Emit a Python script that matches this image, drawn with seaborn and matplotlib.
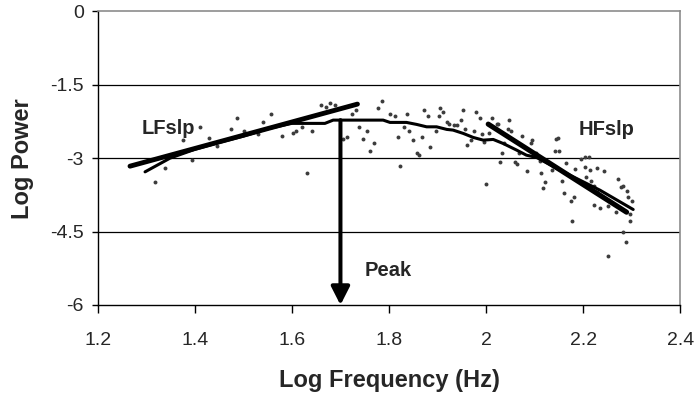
import matplotlib
matplotlib.use("Agg")
import matplotlib.pyplot as plt
import seaborn as sns
import pandas as pd

# Spectral estimates (log frequency vs. log power)
log_freq = [
    1.3186, 1.3386, 1.3952, 1.3763, 1.4107, 1.4292, 1.4451, 1.4755, 1.4869, 1.5019,
    1.5295, 1.5398, 1.5563, 1.5789, 1.6022, 1.6084, 1.6207, 1.6407, 1.6320, 1.6592,
    1.6701, 1.6790, 1.6891, 1.7045, 1.7128, 1.7231, 1.7319, 1.7387, 1.7470, 1.7542,
    1.7614, 1.7696, 1.7776, 1.7855, 1.8030, 1.8116, 1.8194, 1.8232, 1.8303, 1.8380,
    1.8417, 1.8499, 1.8571, 1.8619, 1.8683, 1.8724, 1.8802, 1.8843, 1.8963, 1.9029,
    1.9059, 1.9105, 1.9187, 1.9241, 1.9341, 1.9405, 1.9486, 1.9529, 1.9574, 1.9605,
    1.9681, 1.9759, 1.9795, 1.9873, 1.9916, 1.9957, 1.9990, 2.0064, 2.0130, 2.0217,
    2.0250, 2.0285, 2.0322, 2.0361, 2.0443, 2.0474, 2.0511, 2.0587, 2.0631, 2.0731,
    2.0937, 2.0917, 2.1473, 2.1438, 2.1417, 2.1506, 2.0834, 2.1129, 2.1211, 2.1176,
    2.1349, 2.1555, 2.1656, 2.1597, 2.1741, 2.1815, 2.1774, 2.1839, 2.1946, 2.2041,
    2.2117, 2.2041, 2.2138, 2.2282, 2.2426, 2.2159, 2.2227, 2.2288, 2.2049, 2.1967,
    2.2214, 2.2344, 2.2502, 2.2667, 2.2708, 2.2776, 2.2824, 2.2894, 2.2927, 2.2997,
    2.2962, 2.2968, 2.2811, 2.2886, 2.2502, 2.0675, 2.1020, 2.1108,
]
log_power = [
    -3.497, -3.198, -3.041, -2.632, -2.366, -2.597, -2.755, -2.403, -2.176, -2.442,
    -2.515, -2.264, -2.100, -2.554, -2.479, -2.442, -2.366, -2.442, -3.301, -1.916,
    -1.951, -1.875, -1.916, -2.601, -2.560, -2.100, -2.025, -2.360, -2.601, -2.442,
    -2.857, -2.699, -1.984, -1.834, -2.100, -2.137, -2.558, -3.164, -2.360, -2.100,
    -2.442, -2.632, -2.892, -2.935, -2.560, -2.025, -2.141, -2.781, -2.442, -2.141,
    -1.978, -2.063, -2.264, -2.305, -2.325, -2.325, -2.223, -2.022, -2.407, -2.740,
    -2.632, -2.444, -2.063, -2.176, -2.515, -2.669, -3.538, -2.489, -2.176, -2.305,
    -2.311, -3.082, -2.892, -2.699, -2.407, -2.223, -2.444, -3.086, -3.119, -2.544,
    -2.632, -2.699, -2.585, -2.618, -2.851, -2.857, -3.266, -3.301, -3.485, -3.607,
    -3.245, -3.460, -3.108, -3.716, -3.873, -3.804, -4.288, -3.231, -3.014, -2.986,
    -2.980, -3.190, -3.245, -3.194, -3.272, -3.464, -3.573, -3.689, -3.395, -3.505,
    -3.955, -4.016, -3.982, -4.110, -3.429, -3.599, -3.573, -3.669, -3.791, -3.879,
    -4.131, -4.288, -4.519, -4.703, -4.998, -2.892, -2.892, -3.055,
]

# Smoothed spectrum
smooth_freq = [1.2975, 1.3490, 1.4000, 1.4500, 1.5000, 1.5500, 1.5995, 1.6680,
               1.6850, 1.7880, 1.8020, 1.8360, 1.8570, 1.8775, 1.8980, 1.9190,
               1.9320, 1.9530, 1.9735, 1.9940, 2.0147, 2.0350, 2.0630, 2.0830,
               2.1040, 2.1520, 2.2345, 2.3030]
smooth_power = [-3.280, -3.000, -2.820, -2.680, -2.550, -2.400, -2.290, -2.290,
                -2.223, -2.223, -2.270, -2.270, -2.311, -2.360, -2.360, -2.413,
                -2.427, -2.495, -2.577, -2.632, -2.618, -2.700, -2.836, -2.939,
                -2.986, -3.245, -3.654, -4.049]

# Low- and high-frequency slope fits (end points)
lf_freq = [1.2665, 1.7350]
lf_power = [-3.164, -1.896]
hf_freq = [2.0044, 2.2894]
hf_power = [-2.305, -4.104]

# Spectral peak
peak_freq = 1.70
peak_power = -2.223

x_ticks = [1.2, 1.4, 1.6, 1.8, 2.0, 2.2, 2.4]
x_tick_labels = ["1.2", "1.4", "1.6", "1.8", "2", "2.2", "2.4"]
y_ticks = [0, -1.5, -3, -4.5, -6]
y_tick_labels = ["0", "-1.5", "-3", "-4.5", "-6"]

sns.set_style("white")
plt.rcParams["font.family"] = ["Liberation Sans", "DejaVu Sans"]
plt.rcParams["axes.unicode_minus"] = False

fig = plt.figure(figsize=(6.97, 3.98), dpi=100)
ax = fig.add_axes([0.1402, 0.2337, 0.8358, 0.7379])

points = pd.DataFrame({"freq": log_freq, "power": log_power})
sns.scatterplot(data=points, x="freq", y="power", ax=ax, color="#3c3c3c",
                s=8, linewidth=0, marker="o", zorder=3)

smooth = pd.DataFrame({"freq": smooth_freq, "power": smooth_power})
sns.lineplot(data=smooth, x="freq", y="power", ax=ax, sort=False,
             estimator=None, color="black", linewidth=2.2, zorder=4)
sns.lineplot(x=lf_freq, y=lf_power, ax=ax, sort=False, estimator=None,
             color="black", linewidth=3.5, zorder=5)
sns.lineplot(x=hf_freq, y=hf_power, ax=ax, sort=False, estimator=None,
             color="black", linewidth=3.7, zorder=5)

ax.annotate("", xy=(peak_freq, -6.0), xytext=(peak_freq, peak_power),
            arrowprops=dict(arrowstyle="-|>,head_length=0.55,head_width=0.28",
                            color="black", lw=2.9, shrinkA=0, shrinkB=0,
                            mutation_scale=20),
            zorder=6)

ax.text(1.2906, -2.509, "LFslp", fontsize=14.5, fontweight="bold",
        ha="left", va="baseline", zorder=7)
ax.text(2.1897, -2.530, "HFslp", fontsize=14.5, fontweight="bold",
        ha="left", va="baseline", zorder=7)
ax.text(1.7505, -5.407, "Peak", fontsize=14.5, fontweight="bold",
        ha="left", va="baseline", zorder=7)

ax.set_xlim(1.2, 2.4)
ax.set_ylim(-6, 0)
ax.set_xticks(x_ticks)
ax.set_xticklabels(x_tick_labels)
ax.set_yticks(y_ticks)
ax.set_yticklabels(y_tick_labels)

for yv in [-1.5, -3, -4.5]:
    ax.axhline(yv, color="black", linewidth=0.9, zorder=1)

for side in ["left", "bottom"]:
    ax.spines[side].set_color("black")
    ax.spines[side].set_linewidth(1.0)
for side in ["top", "right"]:
    ax.spines[side].set_color("#8c8c8c")
    ax.spines[side].set_linewidth(1.2)

ax.tick_params(axis="x", direction="out", length=5.5, width=1.0,
               color="black", pad=14, labelsize=14)
ax.tick_params(axis="y", direction="out", length=4.5, width=1.0,
               color="black", pad=5.5, labelsize=14)
ax.tick_params(bottom=True, left=True)

ax.set_xlabel("Log Frequency (Hz)", fontsize=17, fontweight="bold",
              va="baseline")
ax.xaxis.set_label_coords(0.5, -0.280)
ax.set_ylabel("Log Power", fontsize=17, fontweight="bold", va="center")
ax.yaxis.set_label_coords(-0.129, 0.5)

fig.savefig("out.png", dpi=100)
